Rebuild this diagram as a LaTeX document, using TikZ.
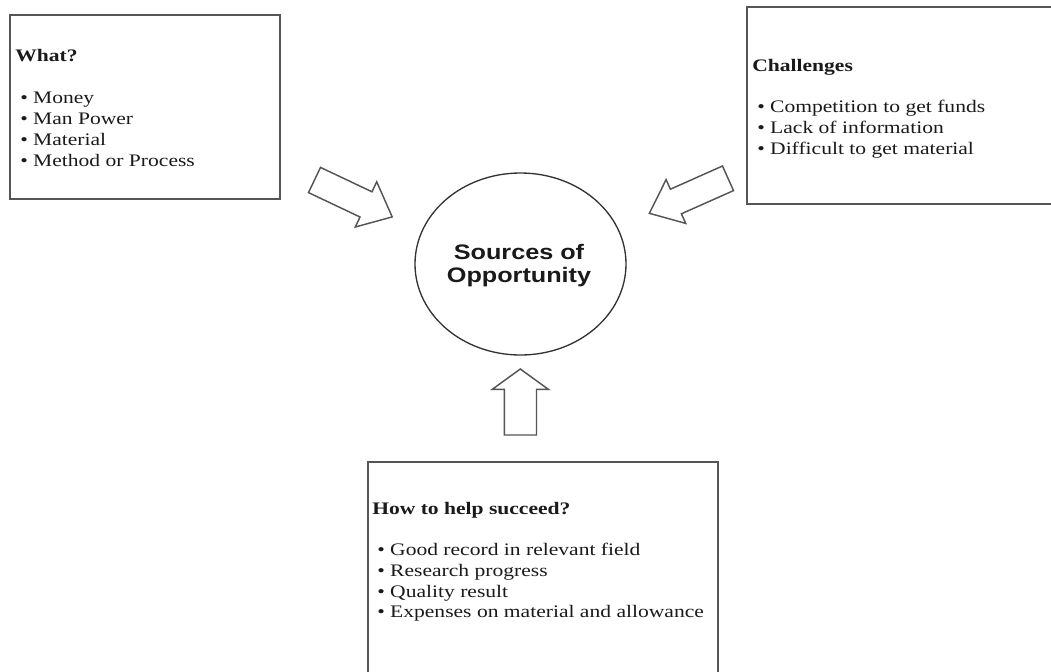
\documentclass[tikz,border=0pt]{standalone}
\usepackage{fontspec}
\usetikzlibrary{fit,shapes.geometric}
\newfontfamily\serifx[FakeStretch=1.225]{Liberation Serif}
\newfontfamily\sansx[FakeStretch=1.2]{Liberation Sans}
\definecolor{edge}{HTML}{555555}
\definecolor{ink}{HTML}{1A1A1A}
\tikzset{
  box/.style={draw=edge, line width=1.5pt, inner sep=0pt, rectangle},
  txt/.style={anchor=base west, inner sep=0pt, text=ink, font=\serifx\fontsize{13.2}{15.75}\selectfont},
  hd/.style={txt, font=\serifx\bfseries\fontsize{13.2}{15.75}\selectfont},
  blk/.style={draw=edge, line width=1.1pt, fill=white, line join=miter},
  lbl/.style={anchor=base, inner sep=0pt, text=ink, font=\sansx\bfseries\fontsize{15.75}{16.8}\selectfont},
}
\begin{document}
\begin{tikzpicture}[x=0.75pt,y=-0.75pt]
\useasboundingbox (0,0) rectangle (1051,672);
\clip (0,0) rectangle (1051,672);
\fill[white] (0,0) rectangle (1051,672);

% boxes
\node[box, fit={(10,15) (280,199)}] (what) {};
\node[box, fit={(747,7) (1070,204)}] (chal) {};
\node[box, fit={(368,462) (718,690)}] (how) {};

% centre ellipse
\node[ellipse, draw=black!80, line width=1pt, minimum width=158.25pt, minimum height=136.5pt, inner sep=0pt] (src) at (520.5,264) {};
\node[lbl] (src1) at (519,259.5) {Sources of};
\node[lbl] (src2) at (519,282) {Opportunity};

% What? box text
\node[hd]  (w0) at (15,61)  {What?};
\node[txt] (w1) at (20,103) {\textbullet{} Money};
\node[txt] (w2) at (20,124) {\textbullet{} Man Power};
\node[txt] (w3) at (20,145) {\textbullet{} Material};
\node[txt] (w4) at (20,166) {\textbullet{} Method or Process};

% Challenges box text
\node[hd]  (c0) at (752,71)  {Challenges};
\node[txt] (c1) at (757,112) {\textbullet{} Competition to get funds};
\node[txt] (c2) at (757,133) {\textbullet{} Lack of information};
\node[txt] (c3) at (757,154) {\textbullet{} Difficult to get material};

% How box text
\node[hd]  (h0) at (372,514) {How to help succeed?};
\node[txt] (h1) at (377,555) {\textbullet{} Good record in relevant field};
\node[txt] (h2) at (377,576) {\textbullet{} Research progress};
\node[txt] (h3) at (377,597) {\textbullet{} Quality result};
\node[txt] (h4) at (377,617) {\textbullet{} Expenses on material and allowance};

% block arrows
\draw[blk] (320.5,167.4) -- (372.0,191.8) -- (376.7,181.8) -- (392.2,216.9)
  -- (355.3,227.0) -- (360.0,217.0) -- (308.5,192.6) -- cycle;
\draw[blk] (722.5,166.0) -- (670.4,189.2) -- (666.1,179.6) -- (649.4,213.3)
  -- (685.7,223.4) -- (681.4,213.8) -- (733.5,190.6) -- cycle;
\draw[blk] (504.3,435) -- (504.3,389.3) -- (492.3,389.3) -- (520.3,369)
  -- (548.3,389.3) -- (536.5,389.3) -- (536.5,435) -- cycle;
\end{tikzpicture}
\end{document}
